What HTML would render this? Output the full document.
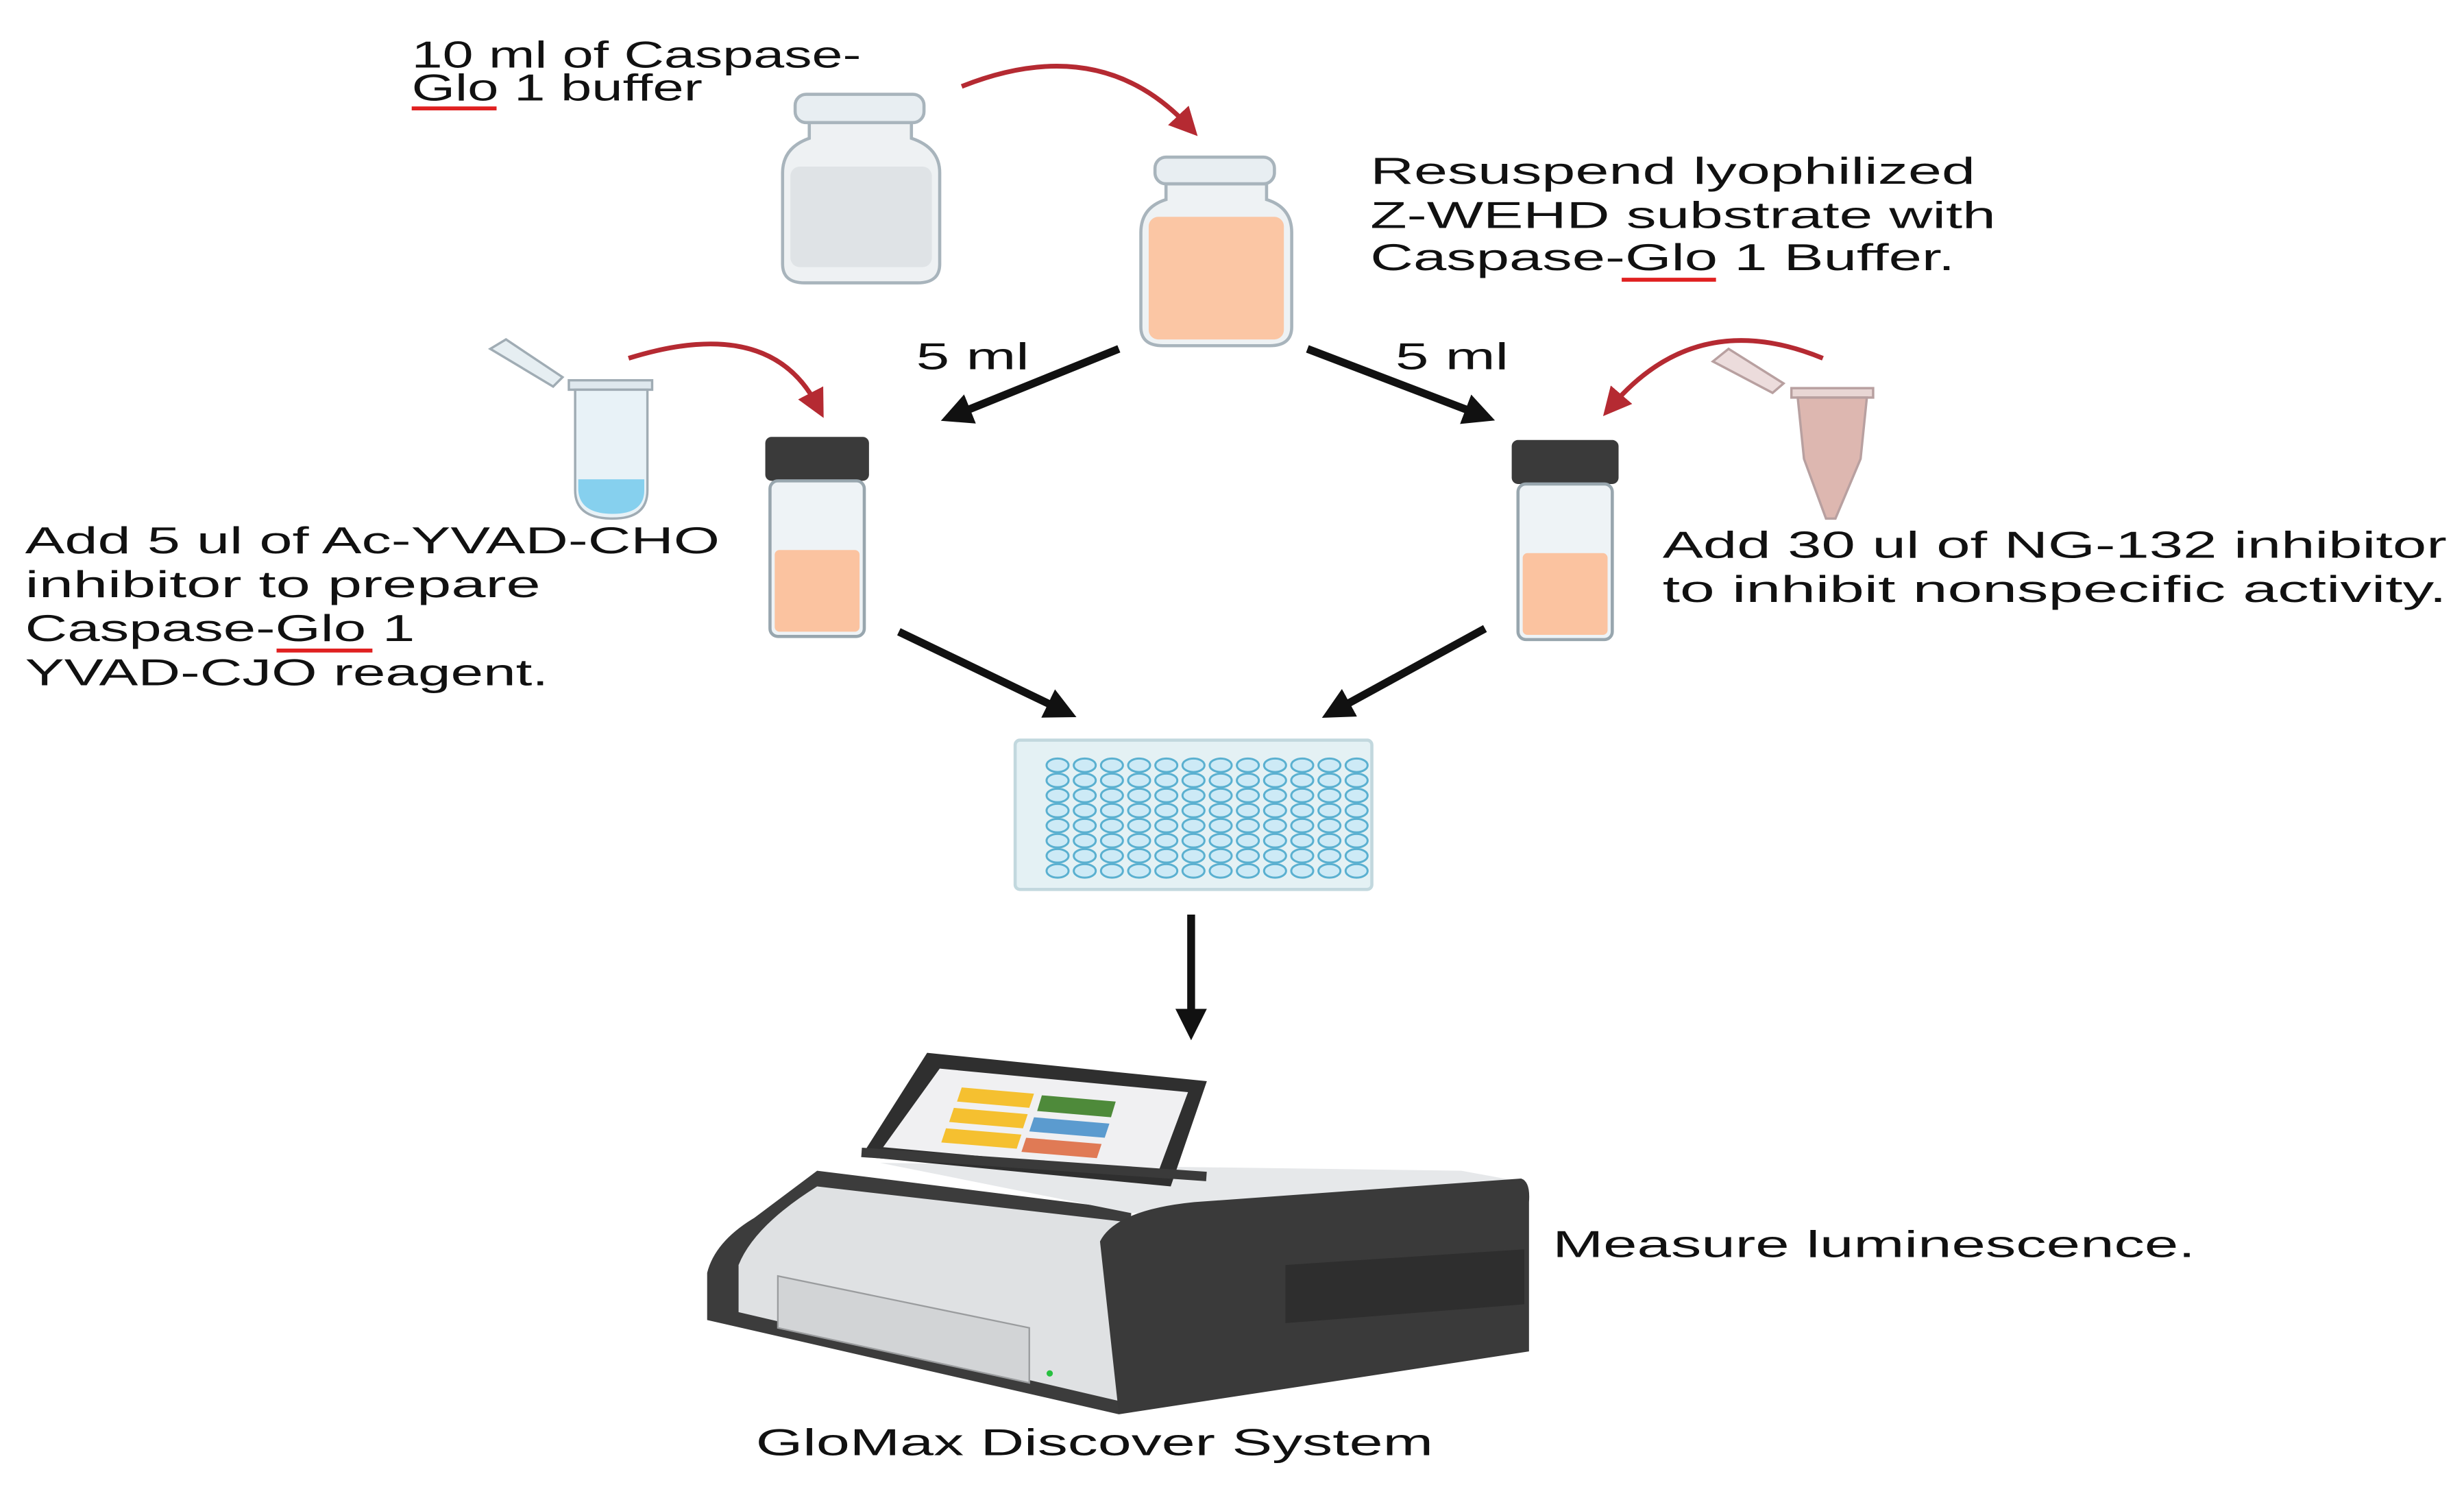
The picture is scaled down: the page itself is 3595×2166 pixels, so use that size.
<!DOCTYPE html>
<html><head><meta charset="utf-8"><style>
html,body{margin:0;padding:0;background:#fff;}
svg{display:block;}
text{font-family:"Liberation Sans",sans-serif;fill:#111;font-size:24px;}
</style></head><body>
<svg width="3595" height="2166" viewBox="0 0 1568 945" preserveAspectRatio="none" xmlns="http://www.w3.org/2000/svg">
<defs>
<marker id="ra" markerWidth="6" markerHeight="6" refX="3" refY="3" orient="auto" markerUnits="strokeWidth"><path d="M0,0 L6,3 L0,6 z" fill="#b52a32"/></marker>
<marker id="ba" markerWidth="4" markerHeight="4" refX="2" refY="2" orient="auto" markerUnits="strokeWidth"><path d="M0,0 L4,2 L0,4 z" fill="#111"/></marker>
</defs>
<rect width="1568" height="945" fill="#fff"/>

<!-- texts -->
<text x="262" y="43" textLength="286" lengthAdjust="spacingAndGlyphs">10 ml of Caspase-</text>
<text x="262" y="64" textLength="185" lengthAdjust="spacingAndGlyphs">Glo 1 buffer</text>
<line x1="262" y1="69" x2="316" y2="69" stroke="#e02020" stroke-width="2.5"/>

<text x="872" y="117" textLength="385" lengthAdjust="spacingAndGlyphs">Resuspend lyophilized</text>
<text x="872" y="145" textLength="398" lengthAdjust="spacingAndGlyphs">Z-WEHD substrate with</text>
<text x="872" y="172" textLength="372" lengthAdjust="spacingAndGlyphs">Caspase-Glo 1 Buffer.</text>
<line x1="1032" y1="178" x2="1092" y2="178" stroke="#e02020" stroke-width="2.5"/>

<text x="583" y="235" textLength="72" lengthAdjust="spacingAndGlyphs">5 ml</text>
<text x="888" y="235" textLength="72" lengthAdjust="spacingAndGlyphs">5 ml</text>

<text x="16" y="352" textLength="442" lengthAdjust="spacingAndGlyphs">Add 5 ul of Ac-YVAD-CHO</text>
<text x="16" y="380" textLength="328" lengthAdjust="spacingAndGlyphs">inhibitor to prepare</text>
<text x="16" y="408" textLength="248" lengthAdjust="spacingAndGlyphs">Caspase-Glo 1</text>
<line x1="176" y1="414" x2="237" y2="414" stroke="#e02020" stroke-width="2.5"/>
<text x="16" y="436" textLength="333" lengthAdjust="spacingAndGlyphs">YVAD-CJO reagent.</text>

<text x="1058" y="355" textLength="499" lengthAdjust="spacingAndGlyphs">Add 30 ul of NG-132 inhibitor</text>
<text x="1058" y="383" textLength="499" lengthAdjust="spacingAndGlyphs">to inhibit nonspecific activity.</text>

<text x="988" y="800" textLength="409" lengthAdjust="spacingAndGlyphs">Measure luminescence.</text>
<text x="481" y="926" textLength="431" lengthAdjust="spacingAndGlyphs">GloMax Discover System</text>

<!-- red curved arrows -->
<path d="M612,55 Q700,20 756,80" fill="none" stroke="#b52a32" stroke-width="3" marker-end="url(#ra)"/>
<path d="M400,228 Q490,200 520,258" fill="none" stroke="#b52a32" stroke-width="3" marker-end="url(#ra)"/>
<path d="M1160,228 Q1080,195 1026,258" fill="none" stroke="#b52a32" stroke-width="3" marker-end="url(#ra)"/>

<!-- black arrows -->
<line x1="712" y1="222" x2="608" y2="264" stroke="#111" stroke-width="5" marker-end="url(#ba)"/>
<line x1="832" y1="222" x2="942" y2="264" stroke="#111" stroke-width="5" marker-end="url(#ba)"/>
<line x1="572" y1="402" x2="676" y2="452" stroke="#111" stroke-width="5" marker-end="url(#ba)"/>
<line x1="945" y1="400" x2="850" y2="452" stroke="#111" stroke-width="5" marker-end="url(#ba)"/>
<line x1="758" y1="582" x2="758" y2="652" stroke="#111" stroke-width="5" marker-end="url(#ba)"/>

<!-- clear vial -->
<rect x="506" y="60" width="82" height="18" rx="7" fill="#e8eef2" stroke="#a8b4bc" stroke-width="2"/>
<path d="M515,78 L515,88 Q498,94 498,110 L498,168 Q498,180 512,180 L584,180 Q598,180 598,168 L598,110 Q598,94 580,88 L580,78 Z" fill="#eef1f3" stroke="#a8b4bc" stroke-width="2"/>
<rect x="503" y="106" width="90" height="64" rx="6" fill="#dfe3e6"/>

<!-- peach vial -->
<rect x="735" y="100" width="76" height="17" rx="7" fill="#e8eef2" stroke="#a8b4bc" stroke-width="2"/>
<path d="M742,117 L742,127 Q726,132 726,148 L726,208 Q726,220 740,220 L808,220 Q822,220 822,208 L822,148 Q822,132 806,127 L806,117 Z" fill="#eef2f4" stroke="#a8b4bc" stroke-width="2"/>
<rect x="731" y="138" width="86" height="78" rx="6" fill="#fbc6a4"/>

<!-- left blue tube -->
<path d="M312,222 L322,216 L358,240 L352,246 Z" fill="#e6eef2" stroke="#a0acb4" stroke-width="1.5"/>
<rect x="362" y="242" width="53" height="6" fill="#dfe8ee" stroke="#a0acb4" stroke-width="1.5"/>
<path d="M366,248 L366,312 Q366,330 390,330 Q412,330 412,312 L412,248 Z" fill="#e8f2f7" stroke="#a0acb4" stroke-width="1.5"/>
<path d="M368,305 L410,305 L410,312 Q410,327 390,327 Q369,327 368,312 Z" fill="#86d0ee"/>

<!-- right pink tube -->
<path d="M1090,230 L1100,222 L1135,244 L1128,250 Z" fill="#ecdcdc" stroke="#b8a0a0" stroke-width="1.5"/>
<rect x="1140" y="247" width="52" height="6" fill="#e8d6d4" stroke="#b8a0a0" stroke-width="1.5"/>
<path d="M1144,253 L1188,253 L1184,292 L1168,330 L1162,330 L1148,292 Z" fill="#ddb7b0" stroke="#b8a0a0" stroke-width="1.5"/>

<!-- left capped vial -->
<rect x="487" y="278" width="66" height="28" rx="4" fill="#3a3a3a"/>
<rect x="490" y="306" width="60" height="99" rx="5" fill="#eef3f6" stroke="#98a6ae" stroke-width="2"/>
<rect x="493" y="350" width="54" height="52" rx="3" fill="#fbc3a0"/>
<!-- right capped vial -->
<rect x="962" y="280" width="68" height="28" rx="4" fill="#3a3a3a"/>
<rect x="966" y="308" width="60" height="99" rx="5" fill="#eef3f6" stroke="#98a6ae" stroke-width="2"/>
<rect x="969" y="352" width="54" height="52" rx="3" fill="#fbc3a0"/>

<!-- plate -->
<rect x="646" y="471" width="227" height="95" rx="3" fill="#e4f1f4" stroke="#c2d8de" stroke-width="2"/>
<g fill="#cdeaf6" stroke="#5ab0d0" stroke-width="1.3">
<script></script>
</g>
<g id="wells" fill="#cdeaf6" stroke="#5ab0d0" stroke-width="1.3">
<ellipse cx="674" cy="487" rx="7" ry="4.3"/>
</g>

<!-- machine -->
<path d="M450,810 Q455,790 480,775 L520,745 L720,770 L712,900 L450,840 Z" fill="#3c3c3c"/>
<path d="M470,805 Q480,780 520,755 L720,778 L714,892 L470,835 Z" fill="#dfe1e3"/>
<path d="M495,812 L655,845 L655,880 L495,845 Z" fill="#d2d4d6" stroke="#9a9c9e" stroke-width="1"/>
<circle cx="668" cy="874" r="2" fill="#28c040"/>
<path d="M560,740 L930,745 L968,752 L760,770 L720,772 Z" fill="#e6e8ea"/>
<path d="M700,790 Q710,770 760,765 L968,750 Q974,752 973,765 L973,860 L712,900 Z" fill="#3a3a3a"/>
<path d="M818,805 L970,795 L970,830 L818,842 Z" fill="#2e2e2e"/>
<!-- tablet -->
<path d="M590,670 L768,688 L745,755 L548,736 Z" fill="#2f2f2f"/>
<path d="M598,680 L756,695 L737,746 L562,730 Z" fill="#f0f0f2"/>
<path d="M612,692 L658,696 L655,705 L609,701 Z" fill="#f5c030"/>
<path d="M607,705 L654,709 L651,718 L604,714 Z" fill="#f5c030"/>
<path d="M602,718 L650,722 L647,731 L599,727 Z" fill="#f5c030"/>
<path d="M663,697 L710,701 L707,711 L660,707 Z" fill="#4e8a3a"/>
<path d="M658,711 L706,715 L703,724 L655,720 Z" fill="#5b9bcf"/>
<path d="M653,724 L701,728 L698,737 L650,733 Z" fill="#e07a55"/>
<rect x="548" y="738" width="220" height="6" fill="#3a3a3a" transform="rotate(4 658 741)"/>
</svg>
<script>
(function(){var g=document.getElementById('wells');g.innerHTML='';var ns='http://www.w3.org/2000/svg';
for(var r=0;r<8;r++)for(var c=0;c<12;c++){var e=document.createElementNS(ns,'ellipse');
e.setAttribute('cx',673+c*17.3);e.setAttribute('cy',487+r*9.6);e.setAttribute('rx',7);e.setAttribute('ry',4.3);g.appendChild(e);}})();
</script>
</body></html>
